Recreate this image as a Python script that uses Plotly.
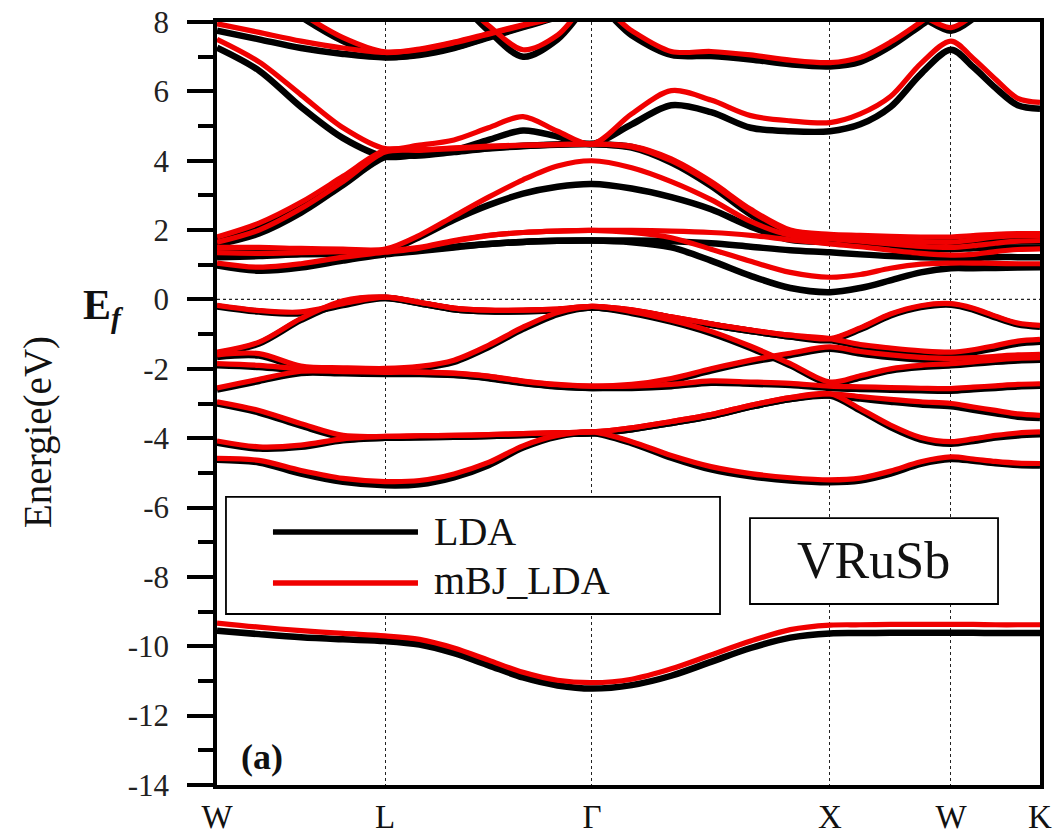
import plotly.graph_objects as go

# k-path sample positions (path length units) and high-symmetry points
k = [0.0, 0.1765, 0.3529, 0.5294, 0.7059,
     0.8508, 0.9958, 1.1408, 1.2857, 1.4307, 1.5756,
     1.7424, 1.9088, 2.0756, 2.2424, 2.4088, 2.5756,
     2.7027, 2.8298, 2.9569, 3.0840,
     3.1775, 3.2710, 3.3645, 3.4580]
kpts = [0.0, 0.7059, 1.5756, 2.5756, 3.0840, 3.4580]
klabels = ["W", "L", "Γ", "X", "W", "K"]
E_F = 0.0
ytick_vals = [-14, -12, -10, -8, -6, -4, -2, 0, 2, 4, 6, 8]
ytick_text = ["-14", "-12", "-10", "-8", "-6", "-4", "-2", "0", "2", "4", "6", "8"]

# ---------------- LDA (black) ----------------
lda_s = [-9.55, -9.65, -9.74, -9.8, -9.85, -9.95, -10.2, -10.55, -10.9, -11.13, -11.22, -11.12, -10.85,
         -10.45, -10.05, -9.75, -9.63, -9.62, -9.61, -9.61, -9.61, -9.61, -9.62, -9.62, -9.62]
lda_v1 = [-0.2, -0.35, -0.4, -0.16, 0.04, -0.11, -0.28, -0.34, -0.34, -0.31, -0.23, -0.33, -0.53, -0.73,
          -0.91, -1.07, -1.17, -0.86, -0.46, -0.22, -0.15, -0.29, -0.52, -0.72, -0.79]
lda_v2 = [-1.56, -1.27, -0.59, -0.08, 0.04, -0.11, -0.28, -0.34, -0.34, -0.31, -0.23, -0.33, -0.53, -0.73,
          -0.91, -1.07, -1.17, -1.35, -1.46, -1.54, -1.58, -1.52, -1.4, -1.27, -1.22]
lda_v3 = [-1.66, -1.62, -1.97, -2.02, -2.04, -1.98, -1.8, -1.37, -0.85, -0.42, -0.23, -0.39, -0.64, -0.97,
          -1.4, -1.9, -2.43, -2.25, -2.05, -1.95, -1.9, -1.85, -1.8, -1.76, -1.74]
lda_v4 = [-1.9, -1.95, -2.05, -2.1, -2.13, -2.14, -2.17, -2.26, -2.4, -2.5, -2.55, -2.5, -2.33, -2.05,
          -1.8, -1.6, -1.42, -1.56, -1.66, -1.73, -1.76, -1.74, -1.7, -1.66, -1.64]
lda_v5 = [-2.6, -2.35, -2.12, -2.13, -2.15, -2.15, -2.18, -2.27, -2.41, -2.51, -2.55, -2.55, -2.5, -2.4,
          -2.43, -2.47, -2.55, -2.58, -2.6, -2.62, -2.63, -2.59, -2.55, -2.51, -2.49]
lda_v6 = [-3.0, -3.26, -3.64, -3.97, -3.99, -3.97, -3.96, -3.94, -3.91, -3.88, -3.86, -3.74, -3.56, -3.36,
          -3.09, -2.87, -2.77, -2.86, -2.95, -3.03, -3.08, -3.18, -3.28, -3.38, -3.42]
lda_v7 = [-4.13, -4.3, -4.25, -4.06, -3.99, -3.97, -3.96, -3.94, -3.91, -3.88, -3.86, -3.74, -3.56, -3.36,
          -3.09, -2.87, -2.77, -3.2, -3.68, -4.04, -4.16, -4.08, -3.98, -3.92, -3.89]
lda_v8 = [-4.62, -4.7, -5.02, -5.26, -5.36, -5.33, -5.13, -4.78, -4.27, -3.95, -3.85, -4.14, -4.56, -4.9,
          -5.1, -5.22, -5.27, -5.22, -5.02, -4.74, -4.6, -4.65, -4.72, -4.77, -4.79]
lda_c1 = [0.98, 0.83, 0.92, 1.12, 1.3, 1.4, 1.5, 1.6, 1.66, 1.69, 1.7, 1.65, 1.5, 1.12, 0.68, 0.33, 0.21,
          0.33, 0.55, 0.78, 0.9, 0.9, 0.91, 0.92, 0.93]
lda_c2 = [1.22, 1.25, 1.3, 1.32, 1.33, 1.42, 1.52, 1.6, 1.66, 1.69, 1.7, 1.7, 1.68, 1.62, 1.52, 1.42, 1.36,
          1.3, 1.25, 1.22, 1.2, 1.2, 1.22, 1.22, 1.22]
lda_c3 = [1.45, 1.43, 1.4, 1.38, 1.38, 1.8, 2.3, 2.72, 3.05, 3.25, 3.33, 3.2, 2.95, 2.6, 2.1, 1.72, 1.65,
          1.6, 1.52, 1.47, 1.45, 1.48, 1.5, 1.5, 1.5]
lda_c4 = [1.58, 1.9, 2.5, 3.3, 4.1, 4.15, 4.25, 4.35, 4.42, 4.46, 4.48, 4.38, 3.95, 3.28, 2.45, 1.85, 1.75,
          1.7, 1.65, 1.6, 1.58, 1.62, 1.66, 1.68, 1.68]
lda_c5 = [1.72, 2.1, 2.7, 3.45, 4.15, 4.18, 4.28, 4.37, 4.43, 4.47, 4.48, 4.4, 4.0, 3.32, 2.5, 1.9, 1.8,
          1.78, 1.75, 1.72, 1.72, 1.76, 1.8, 1.82, 1.82]
lda_c6 = [7.26, 6.6, 5.55, 4.65, 4.12, 4.18, 4.3, 4.6, 4.87, 4.7, 4.48, 5.05, 5.6, 5.4, 4.95, 4.85, 4.85,
          5.05, 5.55, 6.5, 7.2, 6.7, 6.1, 5.6, 5.5]
lda_c7 = [7.75, 7.5, 7.25, 7.08, 6.98, 7.05, 7.25, 7.55, 7.85, 8.15, 8.55, 7.62, 7.05, 7.02, 6.92, 6.78,
          6.72, 6.85, 7.3, 7.9, 8.5, 8.9, 9.2, 9.4, 9.5]
lda_c8 = [9.5, 9.0, 8.15, 7.45, 7.0, 7.07, 7.27, 7.57, 7.87, 8.17, 8.55, 8.9, 9.2, 9.4, 9.5, 9.4, 9.2,
          8.9, 8.5, 8.15, 7.75, 8.1, 8.7, 9.1, 9.3]
lda_c9 = [9.6, 9.6, 9.6, 9.6, 9.5, 9.3, 8.7, 7.75, 7.0, 7.5, 8.6, 9.2, 9.5, 9.6, 9.6, 9.6, 9.6,
          9.6, 9.6, 9.6, 9.6, 9.6, 9.6, 9.6, 9.6]

# ---------------- mBJ_LDA (red) ----------------
mbj_s = [-9.33, -9.45, -9.55, -9.63, -9.7, -9.8, -10.05, -10.4, -10.75, -10.98, -11.05, -10.95, -10.65,
         -10.25, -9.85, -9.52, -9.39, -9.38, -9.37, -9.37, -9.37, -9.37, -9.38, -9.38, -9.38]
mbj_v1 = [-0.17, -0.32, -0.36, -0.12, 0.07, -0.08, -0.25, -0.31, -0.31, -0.28, -0.2, -0.3, -0.5, -0.7,
          -0.88, -1.03, -1.13, -0.82, -0.42, -0.18, -0.12, -0.25, -0.48, -0.68, -0.75]
mbj_v2 = [-1.52, -1.23, -0.55, -0.04, 0.07, -0.08, -0.25, -0.31, -0.31, -0.28, -0.2, -0.3, -0.5, -0.7,
          -0.88, -1.03, -1.13, -1.3, -1.4, -1.48, -1.52, -1.45, -1.33, -1.2, -1.15]
mbj_v3 = [-1.6, -1.56, -1.92, -1.97, -1.99, -1.93, -1.75, -1.32, -0.8, -0.38, -0.2, -0.35, -0.6, -0.92,
          -1.35, -1.85, -2.38, -2.2, -2.0, -1.9, -1.85, -1.8, -1.74, -1.7, -1.68]
mbj_v4 = [-1.85, -1.9, -2.0, -2.05, -2.08, -2.09, -2.12, -2.21, -2.35, -2.45, -2.5, -2.45, -2.28, -2.0,
          -1.75, -1.55, -1.37, -1.5, -1.6, -1.67, -1.7, -1.68, -1.64, -1.6, -1.58]
mbj_v5 = [-2.55, -2.3, -2.07, -2.08, -2.1, -2.1, -2.13, -2.22, -2.36, -2.46, -2.5, -2.5, -2.45, -2.35,
          -2.38, -2.42, -2.5, -2.52, -2.54, -2.56, -2.57, -2.53, -2.49, -2.45, -2.43]
mbj_v6 = [-2.95, -3.2, -3.58, -3.92, -3.95, -3.93, -3.92, -3.9, -3.87, -3.84, -3.82, -3.7, -3.52, -3.32,
          -3.05, -2.83, -2.72, -2.8, -2.88, -2.95, -3.0, -3.1, -3.2, -3.3, -3.34]
mbj_v7 = [-4.08, -4.25, -4.2, -4.02, -3.95, -3.93, -3.92, -3.9, -3.87, -3.84, -3.82, -3.7, -3.52, -3.32,
          -3.05, -2.83, -2.72, -3.15, -3.62, -3.98, -4.1, -4.02, -3.92, -3.85, -3.82]
mbj_v8 = [-4.58, -4.64, -4.93, -5.16, -5.25, -5.22, -5.03, -4.7, -4.22, -3.92, -3.82, -4.1, -4.5, -4.82,
          -5.02, -5.14, -5.2, -5.15, -4.95, -4.68, -4.54, -4.6, -4.67, -4.72, -4.73]
mbj_c1 = [1.05, 0.93, 1.03, 1.22, 1.36, 1.48, 1.68, 1.84, 1.93, 1.97, 1.99, 1.93, 1.78, 1.45, 1.1, 0.78,
          0.64, 0.72, 0.9, 1.02, 1.05, 1.05, 1.04, 1.03, 1.03]
mbj_c2 = [1.35, 1.33, 1.35, 1.38, 1.4, 1.5, 1.7, 1.85, 1.93, 1.97, 1.99, 1.99, 1.97, 1.93, 1.85, 1.72,
          1.6, 1.52, 1.42, 1.33, 1.28, 1.3, 1.38, 1.44, 1.46]
mbj_c3 = [1.5, 1.5, 1.47, 1.45, 1.45, 1.85, 2.4, 2.95, 3.45, 3.85, 4.0, 3.8, 3.4, 2.88, 2.25, 1.85, 1.75,
          1.68, 1.6, 1.53, 1.5, 1.55, 1.62, 1.68, 1.7]
mbj_c4 = [1.65, 2.0, 2.62, 3.4, 4.25, 4.3, 4.35, 4.4, 4.44, 4.46, 4.48, 4.4, 4.0, 3.35, 2.55, 1.95, 1.82,
          1.78, 1.72, 1.67, 1.65, 1.72, 1.8, 1.84, 1.84]
mbj_c5 = [1.8, 2.2, 2.8, 3.55, 4.3, 4.32, 4.37, 4.42, 4.45, 4.47, 4.48, 4.42, 4.05, 3.4, 2.6, 2.0, 1.88,
          1.85, 1.82, 1.8, 1.8, 1.84, 1.88, 1.9, 1.9]
mbj_c6 = [7.5, 6.85, 5.9, 4.95, 4.35, 4.45, 4.6, 4.95, 5.27, 4.85, 4.48, 5.35, 6.02, 5.75, 5.3, 5.15, 5.1,
          5.35, 5.85, 6.8, 7.45, 6.95, 6.35, 5.8, 5.68]
mbj_c7 = [7.95, 7.7, 7.45, 7.25, 7.12, 7.2, 7.4, 7.65, 7.9, 8.15, 8.6, 7.75, 7.15, 7.15, 7.05, 6.9, 6.83,
          6.98, 7.42, 8.0, 8.6, 9.0, 9.3, 9.5, 9.6]
mbj_c8 = [9.6, 9.1, 8.25, 7.55, 7.14, 7.22, 7.42, 7.67, 7.92, 8.17, 8.6, 9.0, 9.3, 9.5, 9.6, 9.5, 9.3,
          9.0, 8.6, 8.2, 7.84, 8.2, 8.8, 9.2, 9.4]
mbj_c9 = [9.6, 9.6, 9.6, 9.6, 9.5, 9.3, 8.75, 7.9, 7.2, 7.62, 8.7, 9.2, 9.5, 9.6, 9.6, 9.6, 9.6,
          9.6, 9.6, 9.6, 9.6, 9.6, 9.6, 9.6, 9.6]

lda_bands = [lda_s, lda_v1, lda_v2, lda_v3, lda_v4, lda_v5, lda_v6, lda_v7, lda_v8,
             lda_c1, lda_c2, lda_c3, lda_c4, lda_c5, lda_c6, lda_c7, lda_c8, lda_c9]
mbj_bands = [mbj_s, mbj_v1, mbj_v2, mbj_v3, mbj_v4, mbj_v5, mbj_v6, mbj_v7, mbj_v8,
             mbj_c1, mbj_c2, mbj_c3, mbj_c4, mbj_c5, mbj_c6, mbj_c7, mbj_c8, mbj_c9]

FONT = "Liberation Serif"
RED = "#f00000"

fig = go.Figure()
for band in lda_bands:
    fig.add_trace(go.Scatter(x=k, y=band, mode="lines", showlegend=False, hoverinfo="skip",
                             line=dict(color="black", width=6.5, shape="spline", smoothing=0.9)))
for band in mbj_bands:
    fig.add_trace(go.Scatter(x=k, y=band, mode="lines", showlegend=False, hoverinfo="skip",
                             line=dict(color=RED, width=5.2, shape="spline", smoothing=0.9)))

fig.update_layout(
    width=1057, height=834,
    margin=dict(l=217, r=17, t=22, b=49, autoexpand=False),
    paper_bgcolor="white", plot_bgcolor="white",
    font=dict(family=FONT, color="#111"),
    xaxis=dict(range=[kpts[0], kpts[-1]], tickmode="array", tickvals=kpts, ticktext=klabels,
               ticks="", showgrid=True, gridcolor="#222", griddash="dot", gridwidth=1.3,
               showline=True, linecolor="black", linewidth=3.5, mirror=True, zeroline=False,
               automargin=False,
               tickfont=dict(family=FONT, size=33, color="#111"), ticklabelstandoff=0),
    yaxis=dict(range=[-14, 8], tickmode="array", tickvals=ytick_vals, ticktext=ytick_text,
               ticks="outside", ticklen=26, tickwidth=3.5,
               tickcolor="black", showgrid=False, zeroline=False, showline=True,
               linecolor="black", linewidth=3.5, mirror=True, automargin=False,
               minor=dict(dtick=1, tick0=0, ticks="outside", ticklen=15, tickwidth=3.5, tickcolor="black"),
               tickfont=dict(family=FONT, size=31, color="#222"), ticklabelstandoff=12),
)

shapes = [
    dict(type="line", xref="paper", x0=0, x1=1, yref="y", y0=E_F, y1=E_F, layer="below",
         line=dict(color="#222", width=1.3, dash="dot")),
    # legend box
    dict(type="rect", xref="paper", yref="paper", x0=0.0109, x1=0.6112, y0=0.2241, y1=0.3775,
         line=dict(color="black", width=1.8), fillcolor="white"),
    dict(type="line", xref="paper", yref="paper", x0=0.068, x1=0.2442, y0=0.3316, y1=0.3316,
         line=dict(color="black", width=5.5)),
    dict(type="line", xref="paper", yref="paper", x0=0.068, x1=0.2442, y0=0.2647, y1=0.2647,
         line=dict(color=RED, width=5.5)),
    # compound box
    dict(type="rect", xref="paper", yref="paper", x0=0.6476, x1=0.949, y0=0.2372, y1=0.3499,
         line=dict(color="black", width=1.8), fillcolor="white"),
]
fig.update_layout(shapes=shapes)

annotations = [
    dict(text="LDA", xref="paper", yref="paper", x=0.2612, y=0.3316, xanchor="left", yanchor="middle",
         showarrow=False, font=dict(family=FONT, size=40, color="#111")),
    dict(text="mBJ_LDA", xref="paper", yref="paper", x=0.2612, y=0.2686, xanchor="left", yanchor="middle",
         showarrow=False, font=dict(family=FONT, size=40, color="#111")),
    dict(text="VRuSb", xref="paper", yref="paper", x=0.798, y=0.2936, xanchor="center", yanchor="middle",
         showarrow=False, font=dict(family=FONT, size=52, color="#111")),
    dict(text="<b>(a)</b>", xref="paper", yref="paper", x=0.0267, y=0.0367, xanchor="left", yanchor="middle",
         showarrow=False, font=dict(family=FONT, size=36, color="#111")),
    dict(text="Energie(eV)", xref="paper", yref="paper", x=-0.2175, y=0.4627, xanchor="center",
         yanchor="middle", textangle=-90, showarrow=False, font=dict(family=FONT, size=39, color="#111")),
    dict(text="<b>E</b><sub><b><i>f</i></b></sub>", xref="paper", yref="paper", x=-0.138, y=0.625,
         xanchor="center", yanchor="middle", showarrow=False, font=dict(family=FONT, size=42, color="#111")),
]
fig.update_layout(annotations=annotations)

fig.write_html("out.html")
